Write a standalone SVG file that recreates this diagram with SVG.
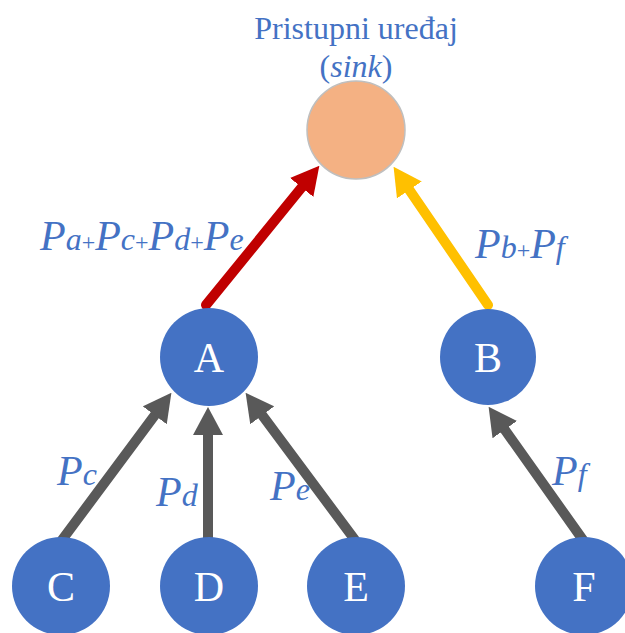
<svg xmlns="http://www.w3.org/2000/svg" width="625" height="633" viewBox="0 0 625 633">
<style>
.node{fill:#4472C4;}
.nl{font-family:'Liberation Serif','Times New Roman',serif;font-size:42px;fill:#ffffff;text-anchor:middle;}
.P{font-style:italic;font-size:42px;}
.s{font-style:italic;font-size:32px;}
.pl{font-size:24px;}
.c{stroke-width:10;stroke-linecap:round;fill:none;}
</style>
<defs>
<marker id="hr" markerUnits="userSpaceOnUse" markerWidth="28" markerHeight="30" viewBox="0 0 28 30" refX="1" refY="15" orient="auto"><path d="M0,0 L28,15 L0,30 z" fill="#C00000"/></marker>
<marker id="hy" markerUnits="userSpaceOnUse" markerWidth="28" markerHeight="30" viewBox="0 0 28 30" refX="1" refY="15" orient="auto"><path d="M0,0 L28,15 L0,30 z" fill="#FFC000"/></marker>
<marker id="hg" markerUnits="userSpaceOnUse" markerWidth="28" markerHeight="30" viewBox="0 0 28 30" refX="1" refY="15" orient="auto"><path d="M0,0 L28,15 L0,30 z" fill="#595959"/></marker>
</defs>
<g id="connectors">
<line class="c" x1="206" y1="305" x2="302.3" y2="186.7" stroke="#C00000" marker-end="url(#hr)"/>
<line class="c" x1="488" y1="305" x2="408.8" y2="189.1" stroke="#FFC000" marker-end="url(#hy)"/>
<line class="c" x1="62" y1="540" x2="155.3" y2="414.5" stroke="#595959" marker-end="url(#hg)"/>
<line class="c" x1="208" y1="540" x2="208" y2="434" stroke="#595959" marker-end="url(#hg)"/>
<line class="c" x1="355" y1="540" x2="261.7" y2="414.5" stroke="#595959" marker-end="url(#hg)"/>
<line class="c" x1="583" y1="540" x2="504.2" y2="428.8" stroke="#595959" marker-end="url(#hg)"/>
</g>
<g id="sink">
<circle cx="356" cy="130" r="49" fill="#F4B183" stroke="#BFBFBF" stroke-width="1.5"/>
<text x="356" y="39" font-family="'Liberation Serif','Times New Roman',serif" font-size="32" fill="#4472C4" text-anchor="middle">Pristupni uređaj</text>
<text x="356" y="77" font-family="'Liberation Serif','Times New Roman',serif" font-size="32" fill="#4472C4" text-anchor="middle">(<tspan font-style="italic">sink</tspan>)</text>
</g>
<g id="A"><circle class="node" cx="209" cy="357" r="49"/><text class="nl" x="209" y="372">A</text></g>
<g id="B"><circle class="node" cx="488" cy="357" r="48"/><text class="nl" x="488" y="372">B</text></g>
<g id="C"><circle class="node" cx="61" cy="586" r="49"/><text class="nl" x="61" y="601">C</text></g>
<g id="D"><circle class="node" cx="209" cy="586" r="49"/><text class="nl" x="209" y="601">D</text></g>
<g id="E"><circle class="node" cx="356" cy="586" r="49"/><text class="nl" x="356" y="601">E</text></g>
<g id="F"><circle class="node" cx="584" cy="586" r="49"/><text class="nl" x="584" y="601">F</text></g>
<g id="labels" font-family="'Liberation Serif','Times New Roman',serif" fill="#4472C4">
<text x="40" y="250"><tspan class="P">P</tspan><tspan class="s">a</tspan><tspan class="pl">+</tspan><tspan class="P">P</tspan><tspan class="s">c</tspan><tspan class="pl">+</tspan><tspan class="P">P</tspan><tspan class="s">d</tspan><tspan class="pl">+</tspan><tspan class="P">P</tspan><tspan class="s">e</tspan></text>
<text x="475" y="258"><tspan class="P">P</tspan><tspan class="s">b</tspan><tspan class="pl">+</tspan><tspan class="P">P</tspan><tspan class="s">f</tspan></text>
<text x="57" y="485"><tspan class="P">P</tspan><tspan class="s">c</tspan></text>
<text x="156" y="506"><tspan class="P">P</tspan><tspan class="s">d</tspan></text>
<text x="270" y="500"><tspan class="P">P</tspan><tspan class="s">e</tspan></text>
<text x="552" y="485"><tspan class="P">P</tspan><tspan class="s">f</tspan></text>
</g>
</svg>
